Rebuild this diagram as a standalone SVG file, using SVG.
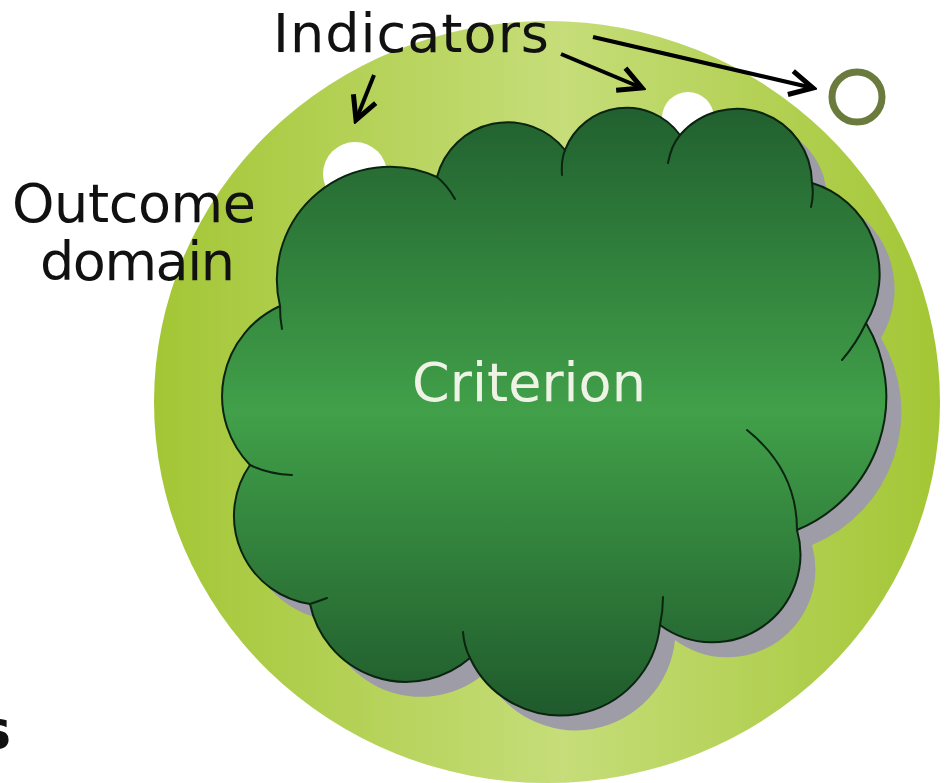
<svg xmlns="http://www.w3.org/2000/svg" xmlns:xlink="http://www.w3.org/1999/xlink" width="946" height="783" viewBox="0 0 946 783">
  <style>
    .label { font-family: "DejaVu Sans", Verdana, sans-serif; font-size: 54px; fill: #111; }
    .inner { font-family: "DejaVu Sans", Verdana, sans-serif; font-size: 54px; fill: #eef3e6; }
    .outline { fill: none; stroke: #0b2410; stroke-width: 2; stroke-linecap: round; }
    .arrow { fill: none; stroke: #000; stroke-width: 4; marker-end: url(#chevron); }
  </style>
  <defs>
    <linearGradient id="domainFill" x1="0" y1="0" x2="1" y2="0">
      <stop offset="0" stop-color="#a3c635"/>
      <stop offset="0.52" stop-color="#c6dd79"/>
      <stop offset="1" stop-color="#a3c635"/>
    </linearGradient>
    <linearGradient id="cloudFill" x1="0" y1="0" x2="0" y2="1">
      <stop offset="0" stop-color="#21602f"/>
      <stop offset="0.5" stop-color="#41a049"/>
      <stop offset="1" stop-color="#1f5a2c"/>
    </linearGradient>
    <marker id="chevron" markerUnits="userSpaceOnUse" viewBox="0 0 30 30" markerWidth="30" markerHeight="30" refX="26" refY="15" orient="auto">
      <path d="M3,3 L26,15 L3,27" fill="none" stroke="#000" stroke-width="5"/>
    </marker>
    <!-- cloud silhouette: one arc per bump, clockwise from the upper left -->
    <path id="cloudShape" d="M280,306
      A113,113 0 0,1 437,177
      A73,73 0 0,1 565,150
      A66,66 0 0,1 680,135
      A75,75 0 0,1 812,183
      A95,95 0 0,1 866,323
      A144,144 0 0,1 797,530
      A88,88 0 0,1 660,625
      A100,100 0 0,1 470,658
      A98,98 0 0,1 310,604
      A89,89 0 0,1 250,465
      A99,99 0 0,1 280,306 Z"/>
  </defs>

  <g id="domain">
    <ellipse cx="547" cy="402" rx="393" ry="381" fill="url(#domainFill)"/>
    <text class="label" x="12" y="222" textLength="244">Outcome</text>
    <text class="label" x="40" y="280" textLength="195">domain</text>
  </g>

  <g id="indicator-1">
    <circle cx="355" cy="174" r="32" fill="#ffffff"/>
  </g>
  <g id="indicator-2">
    <circle cx="688" cy="118" r="26" fill="#ffffff"/>
  </g>
  <g id="indicator-3">
    <circle cx="857" cy="97" r="25" fill="none" stroke="#6b7b3e" stroke-width="7"/>
  </g>

  <g id="criterion">
    <use xlink:href="#cloudShape" transform="translate(15,15)" fill="#9e9ca6"/>
    <use xlink:href="#cloudShape" fill="url(#cloudFill)" stroke="#0b2410" stroke-width="2"/>
    <!-- inner tails where the bumps overlap -->
    <path class="outline" d="M437,177 Q447,185 455,199
      M565,150 Q561,160 562,175
      M680,135 Q671,146 668,163
      M812,183 Q814,195 811,207
      M866,323 Q856,344 842,360
      M747,430 Q797,470 797,530
      M660,625 Q663,611 663,597
      M470,658 Q464,646 463,632
      M310,604 Q319,601 327,598
      M250,465 Q268,474 292,475
      M280,306 Q280,318 282,329"/>
    <text class="inner" x="529" y="401" text-anchor="middle">Criterion</text>
  </g>

  <g id="indicators-label">
    <text class="label" x="273" y="52" textLength="276">Indicators</text>
  </g>

  <g id="connectors">
    <path class="arrow" d="M374,75 L356,120"/>
    <path class="arrow" d="M561,54 L642,88"/>
    <path class="arrow" d="M593,37 L813,88"/>
  </g>

  <text x="-21" y="748" font-family="DejaVu Sans, sans-serif" font-size="54" font-weight="bold" fill="#111">s</text>
</svg>
